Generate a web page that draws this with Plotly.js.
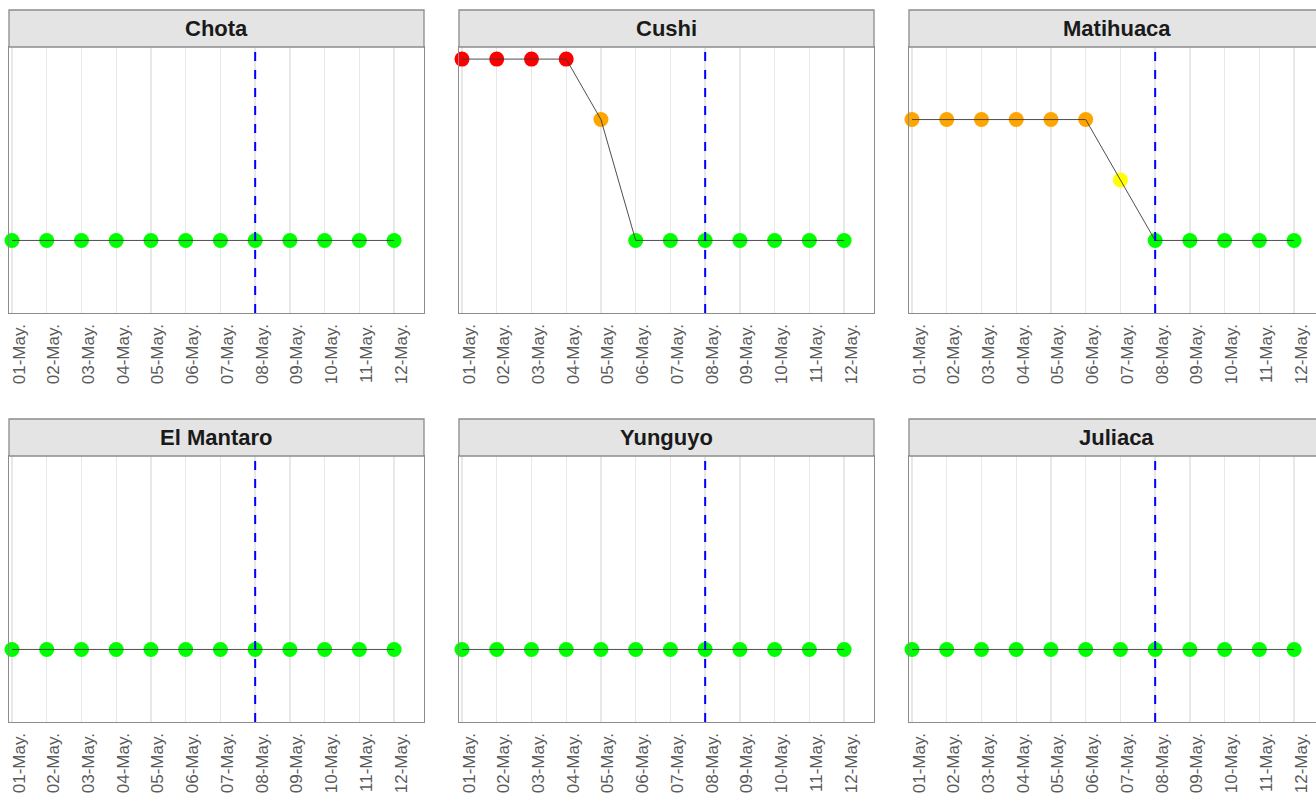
<!DOCTYPE html>
<html>
<head>
<meta charset="utf-8">
<script src="https://cdn.plot.ly/plotly-3.0.1.min.js"></script>
<style>
html,body{margin:0;padding:0;overflow:hidden;background:#fff;}
#chart{width:1340px;height:797px;}
</style>
</head>
<body>
<div id="chart"></div>
<script>
// ---- data ----
var dayLabels = ["01-May.","02-May.","03-May.","04-May.","05-May.","06-May.","07-May.","08-May.","09-May.","10-May.","11-May.","12-May."];
var stations = ["Chota","Cushi","Matihuaca","El Mantaro","Yunguyo","Juliaca"];
var chotaLevels     = [1,1,1,1,1,1,1,1,1,1,1,1];
var cushiLevels     = [4,4,4,4,3,1,1,1,1,1,1,1];
var matihuacaLevels = [3,3,3,3,3,3,2,1,1,1,1,1];
var mantaroLevels   = [1,1,1,1,1,1,1,1,1,1,1,1];
var yunguyoLevels   = [1,1,1,1,1,1,1,1,1,1,1,1];
var juliacaLevels   = [1,1,1,1,1,1,1,1,1,1,1,1];
var levelColors = {1:"#00FF00", 2:"#FFFF00", 3:"#FFA500", 4:"#FF0000"};
var referenceDay = "08-May.";

var allLevels = [chotaLevels,cushiLevels,matihuacaLevels,mantaroLevels,yunguyoLevels,juliacaLevels];
var xIdx = dayLabels.map(function(d,i){return i;});
var refIdx = dayLabels.indexOf(referenceDay);

// ---- layout geometry ----
var W = 1340, H = 797;
var ml = 9, mr = 16, mt = 10, mb = 75;
var pw = W - ml - mr, ph = H - mt - mb;
var colX = [[0,415],[450,865],[900,1315]];
var rowY = [[37,303],[446,712]];
var stripH = 37;

var traces = [];
var shapes = [];
var annotations = [];
var layout = {
  width: W, height: H,
  margin: {l: ml, r: mr, t: mt, b: mb, pad: 0},
  paper_bgcolor: "#fff", plot_bgcolor: "#fff",
  showlegend: false,
  font: {family: "Liberation Sans, Arial, sans-serif"}
};

for (var k = 0; k < 6; k++) {
  var r = Math.floor(k/3), c = k % 3;
  var sfx = k === 0 ? "" : String(k+1);
  var xa = "x" + sfx, ya = "y" + sfx;
  var lv = allLevels[k];
  // markers
  traces.push({
    type: "scatter", mode: "markers", x: xIdx, y: lv, xaxis: xa, yaxis: ya,
    marker: {size: 15, color: lv.map(function(v){return levelColors[v];}), line: {width: 0}},
    hoverinfo: "skip", cliponaxis: false
  });
  // connecting line on top
  traces.push({
    type: "scatter", mode: "lines", x: xIdx, y: lv, xaxis: xa, yaxis: ya,
    line: {color: "#3a3a3a", width: 0.9}, hoverinfo: "skip"
  });
  layout["xaxis" + sfx] = {
    domain: [colX[c][0]/pw, colX[c][1]/pw],
    anchor: ya,
    range: [-0.086, 11.86],
    tickmode: "array", tickvals: xIdx, ticktext: dayLabels,
    tickangle: -90,
    tickfont: {size: 17, color: "#5a5a5a", family: "Liberation Sans, Arial, sans-serif"},
    ticklabelshift: 7,
    ticklabelstandoff: 3,
    ticks: "", ticklen: 0,
    showgrid: true, gridcolor: "#e8e8e8", gridwidth: 1.4,
    zeroline: false,
    showline: true, mirror: true, linecolor: "#8c8c8c", linewidth: 1.3,
    fixedrange: true
  };
  layout["yaxis" + sfx] = {
    domain: [1 - rowY[r][1]/ph, 1 - rowY[r][0]/ph],
    anchor: xa,
    range: [-0.2, 4.2],
    showticklabels: false, ticks: "",
    showgrid: false, zeroline: false,
    showline: true, mirror: true, linecolor: "#8c8c8c", linewidth: 1.3,
    fixedrange: true
  };
  // reference dashed line
  shapes.push({
    type: "line", xref: xa, yref: ya + " domain",
    x0: refIdx, x1: refIdx, y0: 0, y1: 1,
    line: {color: "#0000FF", width: 2, dash: "dash"}, layer: "above"
  });
  // strip
  var ph_panel = rowY[r][1] - rowY[r][0];
  shapes.push({
    type: "rect", xref: xa + " domain", yref: ya + " domain",
    x0: 0, x1: 1, y0: 1, y1: 1 + stripH/ph_panel,
    fillcolor: "#e4e4e4", line: {color: "#8c8c8c", width: 1.3}, layer: "above"
  });
  annotations.push({
    xref: xa + " domain", yref: ya + " domain",
    x: 0.5, y: 1 + (stripH/2)/ph_panel, xanchor: "center", yanchor: "middle",
    text: "<b>" + stations[k] + "</b>", showarrow: false,
    font: {size: 22, color: "#1a1a1a", family: "Liberation Sans, Arial, sans-serif"}
  });
}
layout.shapes = shapes;
layout.annotations = annotations;

Plotly.newPlot("chart", traces, layout, {displayModeBar: false, staticPlot: true});
</script>
</body>
</html>
